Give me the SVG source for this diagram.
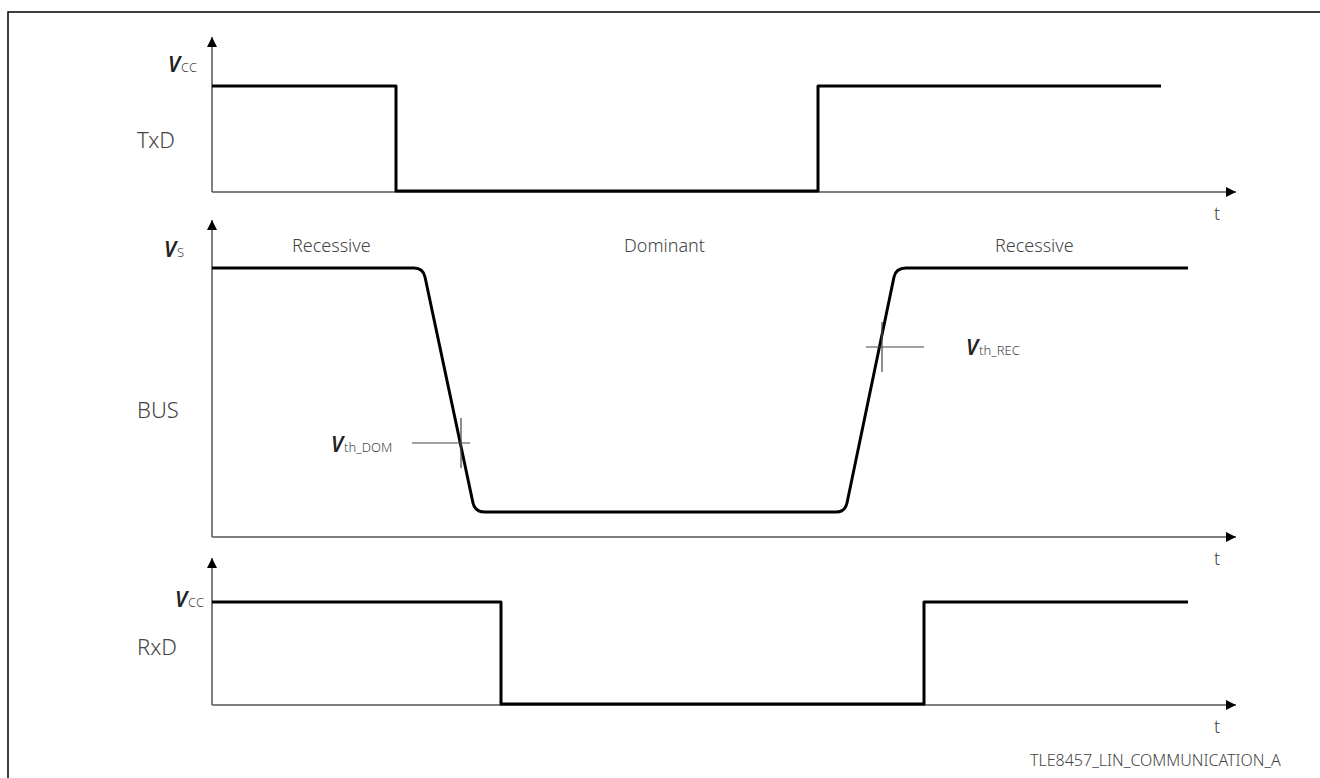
<svg xmlns="http://www.w3.org/2000/svg" width="1320" height="778" viewBox="0 0 1320 778">
<defs>
<marker id="ah" viewBox="0 0 10 10" refX="10" refY="5" markerWidth="10" markerHeight="10" markerUnits="userSpaceOnUse" orient="auto">
<path d="M0,0 L10,5 L0,10 z" fill="#000"/>
</marker>
<style>
.ax{stroke:#555;stroke-width:1.5;fill:none}
.sig{stroke:#000;stroke-width:3;fill:none;stroke-linejoin:round}
.th{stroke:#444;stroke-width:1.2;fill:none}
.lbl{font-family:"Noto Sans","Open Sans","Liberation Sans",sans-serif;font-weight:300;fill:#444}
.big{font-size:22px}
.mid{font-size:18px}
.v{font-family:"Noto Sans","Open Sans","Liberation Sans",sans-serif;font-style:italic;font-weight:600;font-size:21px;fill:#222}
.sub{font-family:"Noto Sans","Open Sans","Liberation Sans",sans-serif;font-style:normal;font-weight:300;font-size:13px;fill:#444}
</style>
</defs>
<path d="M8,778 V12 H1320" fill="none" stroke="#000" stroke-width="1.5"/>

<g id="axes">
<path class="ax" d="M212,192 V37" marker-end="url(#ah)"/>
<path class="ax" d="M212,192 H1236" marker-end="url(#ah)"/>
<path class="ax" d="M212,537 V220" marker-end="url(#ah)"/>
<path class="ax" d="M212,537 H1236" marker-end="url(#ah)"/>
<path class="ax" d="M212,705 V558" marker-end="url(#ah)"/>
<path class="ax" d="M212,705 H1236" marker-end="url(#ah)"/>
</g>

<g id="txd">
<path class="sig" d="M212,86 H396 V191 H818 V86 H1161"/>
<text class="lbl big" x="137" y="148">TxD</text>
<text class="v" x="168" y="72">V<tspan class="sub" dx="1">CC</tspan></text>
<text class="lbl mid" x="1214" y="220">t</text>
</g>

<g id="bus">
<path class="sig" d="M212,268 H414 Q423,268 425,277 L473,503 Q475,512 485,512 H836 Q845,512 847,503 L894,277 Q896,268 906,268 H1188"/>
<text class="lbl big" x="137" y="418">BUS</text>
<text class="v" x="164" y="257">V<tspan class="sub" dx="1">S</tspan></text>
<text class="lbl mid" x="292" y="252">Recessive</text>
<text class="lbl mid" x="624" y="252">Dominant</text>
<text class="lbl mid" x="995" y="252">Recessive</text>
<text class="lbl mid" x="1214" y="565">t</text>
</g>

<g id="vth_dom">
<path class="th" d="M412,443 H470 M461,418 V468"/>
<text class="v" x="331" y="452">V<tspan class="sub" dx="1">th_DOM</tspan></text>
</g>

<g id="vth_rec">
<path class="th" d="M866,347 H924 M882,322 V372"/>
<text class="v" x="966" y="355">V<tspan class="sub" dx="1">th_REC</tspan></text>
</g>

<g id="rxd">
<path class="sig" d="M212,602 H501 V704 H924 V602 H1188"/>
<text class="lbl big" x="137" y="655">RxD</text>
<text class="v" x="175" y="607">V<tspan class="sub" dx="1">CC</tspan></text>
<text class="lbl mid" x="1214" y="733">t</text>
</g>

<text class="lbl" font-size="16" x="1030" y="766">TLE8457_LIN_COMMUNICATION_A</text>
</svg>
